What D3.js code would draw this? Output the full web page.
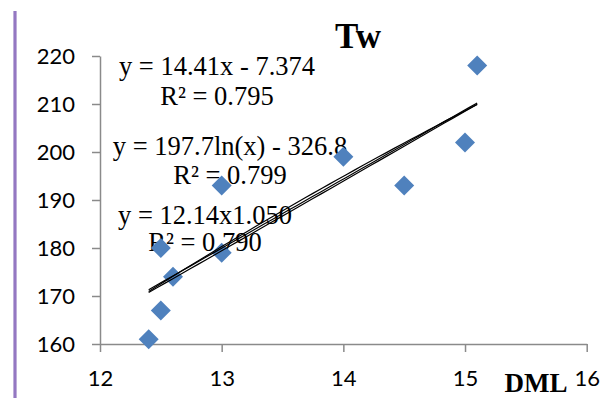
<!DOCTYPE html>
<html><head><meta charset="utf-8">
<script src="https://cdn.jsdelivr.net/npm/d3@7/dist/d3.min.js"></script>
<style>html,body{margin:0;padding:0;background:#fff;}svg{display:block;}</style>
</head><body>
<svg id="c" width="605" height="398"></svg>
<script>
const xVals = [12.4, 12.5, 12.5, 12.6, 13.0, 13.0, 14.0, 14.5, 15.0, 15.1];
const yVals = [161, 167, 180, 174, 179, 193, 199, 193, 202, 218];
const xTicks = [12, 13, 14, 15, 16];
const yTicks = [160, 170, 180, 190, 200, 210, 220];
const linearCoef = [14.41, -7.374];
const logCoef = [197.7, -326.8];
const powerCoef = [12.14, 1.050];
const trendRange = [12.4, 15.1];
const labels = [
  ["y = 14.41x - 7.374", "R² = 0.795"],
  ["y = 197.7ln(x) - 326.8", "R² = 0.799"],
  ["y = 12.14x1.050", "R² = 0.790"]
];
const title = "Tw";
const xTitle = "DML";

const svg = d3.select("#c");
const x = d3.scaleLinear().domain([12, 16]).range([100, 586.7]);
const y = d3.scaleLinear().domain([160, 220]).range([344, 56]);

// purple left border line
svg.append("line").attr("x1", 15).attr("x2", 15).attr("y1", 11).attr("y2", 398)
  .attr("stroke", "#9478c2").attr("stroke-width", 3.2);

const axisColor = "#8a8a8a";
const gx = svg.append("g").attr("transform", "translate(0,344)")
  .call(d3.axisBottom(x).tickValues(xTicks).tickSize(8).tickSizeOuter(0).tickFormat(d3.format("d")));
const gy = svg.append("g").attr("transform", "translate(100,0)")
  .call(d3.axisLeft(y).tickValues(yTicks).tickSize(8).tickSizeOuter(0).tickFormat(d3.format("d")));
[gx, gy].forEach(g => {
  g.select(".domain").attr("stroke", axisColor).attr("stroke-width", 1.5);
  g.selectAll(".tick line").attr("stroke", axisColor).attr("stroke-width", 1.5);
  g.selectAll(".tick text").attr("fill", "#000").attr("font-family", "Lato, 'Liberation Sans', sans-serif").attr("font-size", 22);
});
gx.selectAll(".tick text").attr("dy", 0).attr("y", 42);
gy.selectAll(".tick text").attr("x", -25).attr("dy", "0.35em");

// title
svg.append("text").attr("x", 358).attr("y", 48).attr("text-anchor", "middle")
  .attr("font-family", "'Liberation Serif', serif").attr("font-weight", "bold").attr("font-size", 35).text(title);
svg.append("text").attr("x", 536).attr("y", 392).attr("text-anchor", "middle")
  .attr("font-family", "'Liberation Serif', serif").attr("font-weight", "bold").attr("font-size", 27).text(xTitle);

// equation labels
const labelPos = [[217, 75, 105], [230, 155, 184], [205, 224, 251]];
labels.forEach((l, i) => {
  const [cx, b1, b2] = labelPos[i];
  [l[0], l[1]].forEach((t, j) => {
    svg.append("text").attr("x", cx).attr("y", j ? b2 : b1).attr("text-anchor", "middle")
      .attr("font-family", "'Liberation Serif', serif").attr("font-size", 26.5).text(t);
  });
});

// points
const diamond = "M0,-10L10,0L0,10L-10,0Z";
svg.append("g").selectAll("path").data(xVals.map((v, i) => [v, yVals[i]])).join("path")
  .attr("d", diamond).attr("transform", d => `translate(${x(d[0])},${y(d[1])})`)
  .attr("fill", "#4f81bd");

// trend lines
const samples = d3.range(0, 41).map(i => trendRange[0] + (trendRange[1] - trendRange[0]) * i / 40);
const fns = [
  v => linearCoef[0] * v + linearCoef[1],
  v => logCoef[0] * Math.log(v) + logCoef[1],
  v => powerCoef[0] * Math.pow(v, powerCoef[1])
];
const line = d3.line().x(d => x(d[0])).y(d => y(d[1]));
fns.forEach(f => {
  svg.append("path").datum(samples.map(v => [v, f(v)])).attr("d", line)
    .attr("fill", "none").attr("stroke", "#000").attr("stroke-width", 1.2);
});
</script>
</body></html>
